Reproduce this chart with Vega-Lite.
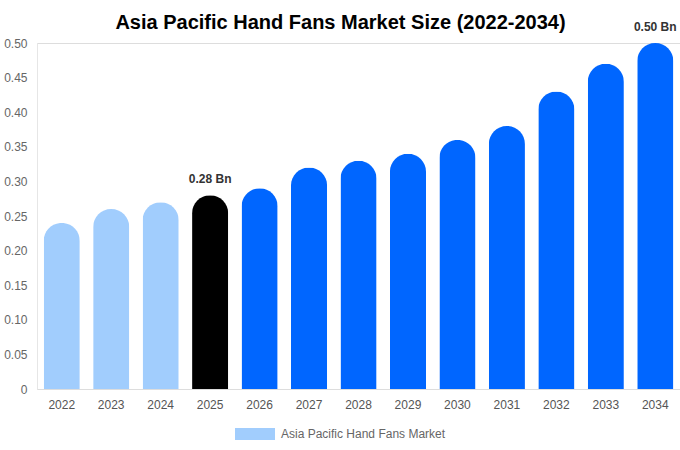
{
  "$schema": "https://vega.github.io/schema/vega-lite/v6.json",
  "width": 643,
  "height": 346,
  "autosize": {"type": "none"},
  "padding": {"left": 37, "top": 43, "right": 0, "bottom": 61},
  "background": "#ffffff",
  "title": {
    "text": "Asia Pacific Hand Fans Market Size (2022-2034)",
    "font": "Liberation Sans",
    "fontSize": 20,
    "fontWeight": "bold",
    "color": "#000000",
    "anchor": "middle",
    "dx": -18,
    "dy": 24,
    "offset": 12
  },
  "data": {
    "values": [
      {"year": "2022", "value": 0.24, "phase": "Historical", "label": ""},
      {"year": "2023", "value": 0.26, "phase": "Historical", "label": ""},
      {"year": "2024", "value": 0.27, "phase": "Historical", "label": ""},
      {"year": "2025", "value": 0.28, "phase": "Base", "label": "0.28 Bn"},
      {"year": "2026", "value": 0.29, "phase": "Forecast", "label": ""},
      {"year": "2027", "value": 0.32, "phase": "Forecast", "label": ""},
      {"year": "2028", "value": 0.33, "phase": "Forecast", "label": ""},
      {"year": "2029", "value": 0.34, "phase": "Forecast", "label": ""},
      {"year": "2030", "value": 0.36, "phase": "Forecast", "label": ""},
      {"year": "2031", "value": 0.38, "phase": "Forecast", "label": ""},
      {"year": "2032", "value": 0.43, "phase": "Forecast", "label": ""},
      {"year": "2033", "value": 0.47, "phase": "Forecast", "label": ""},
      {"year": "2034", "value": 0.50, "phase": "Forecast", "label": "0.50 Bn"}
    ]
  },
  "encoding": {
    "x": {
      "field": "year",
      "type": "nominal",
      "sort": null,
      "scale": {"paddingInner": 0.27, "paddingOuter": 0.135},
      "axis": {
        "title": null,
        "labelAngle": 0,
        "labelFont": "Liberation Sans",
        "labelFontSize": 12,
        "labelColor": "#555555",
        "labelPadding": 10,
        "ticks": false,
        "domainColor": "#dddddd",
        "grid": false
      }
    },
    "y": {
      "field": "value",
      "type": "quantitative",
      "scale": {"domain": [0, 0.5], "nice": false},
      "axis": {
        "title": null,
        "values": [0, 0.05, 0.1, 0.15, 0.2, 0.25, 0.3, 0.35, 0.4, 0.45, 0.5],
        "labelExpr": "datum.value == 0 ? '0' : format(datum.value, '.2f')",
        "labelFont": "Liberation Sans",
        "labelFontSize": 12,
        "labelColor": "#666666",
        "labelPadding": 10,
        "ticks": false,
        "domainColor": "#e6e6e6",
        "grid": false
      }
    }
  },
  "layer": [
    {
      "mark": {"type": "bar", "cornerRadiusTopLeft": 18, "cornerRadiusTopRight": 18},
      "encoding": {
        "color": {
          "field": "phase",
          "type": "nominal",
          "scale": {"domain": ["Historical", "Base", "Forecast"], "range": ["#a1cdfd", "#000000", "#0066ff"]},
          "legend": {
            "values": ["Historical"],
            "labelExpr": "'Asia Pacific Hand Fans Market'",
            "title": null,
            "orient": "none",
            "legendX": 198,
            "legendY": 371,
            "symbolType": "M-1,-0.3L1,-0.3L1,0.3L-1,0.3Z",
            "symbolSize": 1600,
            "symbolStrokeWidth": 0,
            "labelFont": "Liberation Sans",
            "labelFontSize": 12,
            "labelColor": "#666666",
            "labelOffset": 6,
            "labelLimit": 400
          }
        }
      }
    },
    {
      "mark": {"type": "text", "dy": -16, "font": "Liberation Sans", "fontSize": 12, "fontWeight": "bold", "color": "#333333"},
      "encoding": {
        "text": {"field": "label"}
      }
    }
  ]
}
